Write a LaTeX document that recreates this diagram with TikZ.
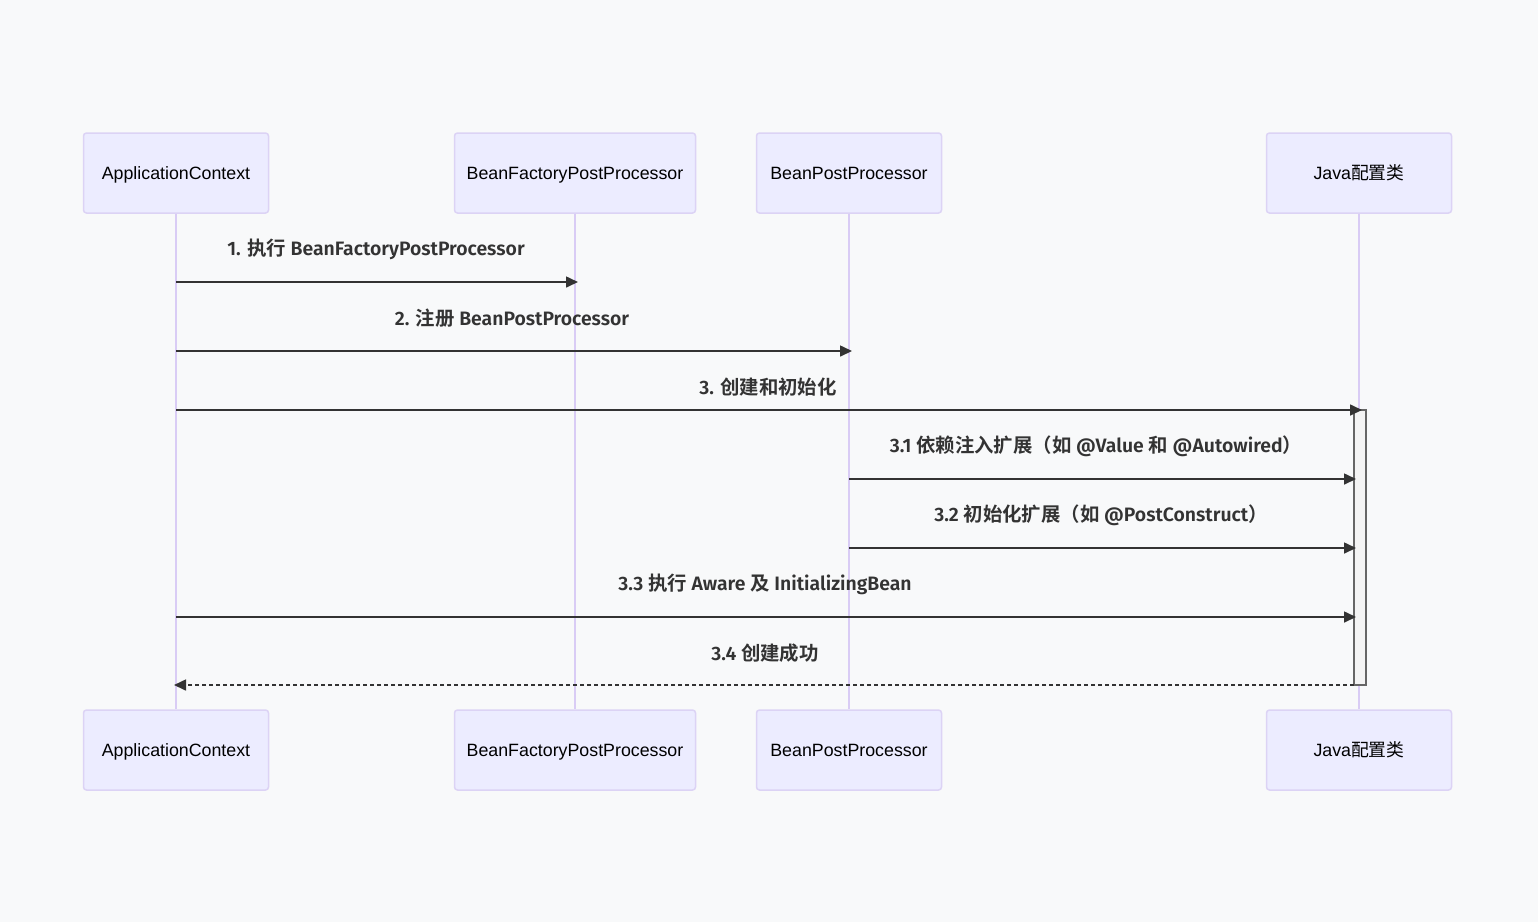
\documentclass[tikz,border=0pt]{standalone}
\usepackage{fontspec}
\setmainfont{Liberation Sans}
\newfontfamily\labelfont{Fira Sans}[BoldFont={Fira Sans SemiBold}]
\newfontfamily\cjk{Noto Sans CJK SC}[BoldFont={Noto Sans CJK SC Bold}]
\usetikzlibrary{arrows.meta,positioning,calc}
\definecolor{PageGray}{HTML}{F8F9FA}
\definecolor{ActorFill}{HTML}{ECECFF}
\definecolor{ActorLine}{HTML}{DCD3F5}
\definecolor{LifeLine}{HTML}{D9CCF5}
\definecolor{MsgInk}{HTML}{333333}
\definecolor{ActFill}{HTML}{F4F4F4}

\begin{document}
\begin{tikzpicture}[x=1pt,y=-1pt,
  actor/.style={rounded corners=3pt,fill=ActorFill,draw=ActorLine,line width=1.5pt,
    minimum width=185pt,minimum height=80pt,inner sep=0pt,text height=14.5pt,text depth=1.5pt,
    font=\fontsize{17.8}{21}\selectfont,text=black},
  lifeline/.style={draw=LifeLine,line width=2pt},
  msg/.style={draw=MsgInk,line width=1.6pt,-{Triangle[length=12pt,width=11pt]}},
  reply/.style={msg,dashed,dash pattern=on 4pt off 3pt},
  msglabel/.style={font=\labelfont\bfseries\fontsize{19.4}{23}\selectfont,text=MsgInk,inner sep=0pt}]
\useasboundingbox[fill=PageGray] (0,0) rectangle (1538,922);

% actors, top and bottom
\node[actor] (ac) at (176,173) {ApplicationContext};
\node[actor,minimum width=241pt] (bfpp) at (575,173) {BeanFactoryPostProcessor};
\node[actor] (bpp) at (849,173) {BeanPostProcessor};
\node[actor] (jc) at (1359,173) {Java{\cjk 配置类}};
\node[actor] (ac-b) at (176,750) {ApplicationContext};
\node[actor,minimum width=241pt] (bfpp-b) at (575,750) {BeanFactoryPostProcessor};
\node[actor] (bpp-b) at (849,750) {BeanPostProcessor};
\node[actor] (jc-b) at (1359,750) {Java{\cjk 配置类}};

% lifelines
\foreach \a in {ac,bfpp,bpp,jc}
  \draw[lifeline] (\a.south) -- (\a-b.north);

% activation bar
\node[draw=black!60,fill=ActFill,line width=1.2pt,minimum width=12pt,minimum height=275pt,inner sep=0pt] (act) at (1360,547.5) {};

% message anchors
\coordinate (ac-1) at (176,282);  \coordinate (bfpp-1) at (578,282);
\coordinate (ac-2) at (176,351);  \coordinate (bpp-2) at (852,351);
\coordinate (ac-3) at (176,410);  \coordinate (jc-3) at (1362,410);
\coordinate (bpp-4) at (849,479); \coordinate (act-4) at (1356,479);
\coordinate (bpp-5) at (849,548); \coordinate (act-5) at (1356,548);
\coordinate (ac-6) at (176,617);  \coordinate (act-6) at (1356,617);
\coordinate (act-7) at (1354,685); \coordinate (ac-7) at (174,685);

% messages
\draw[msg] (ac-1) -- (bfpp-1);
\node[msglabel] (m1) at (376,249) {1. {\cjk\bfseries 执行} BeanFactoryPostProcessor};
\draw[msg] (ac-2) -- (bpp-2);
\node[msglabel] (m2) at (512,318) {2. {\cjk\bfseries 注册} BeanPostProcessor};
\draw[msg] (ac-3) -- (jc-3);
\node[msglabel] (m3) at (768,387) {3. {\cjk\bfseries 创建和初始化}};
\draw[msg] (bpp-4) -- (act-4);
\node[msglabel] (m4) at (1096,446) {3.1 {\cjk\bfseries 依赖注入扩展（如} @Value {\cjk\bfseries 和} @Autowired{\cjk\bfseries ）}};
\draw[msg] (bpp-5) -- (act-5);
\node[msglabel] (m5) at (1101,515) {3.2 {\cjk\bfseries 初始化扩展（如} @PostConstruct{\cjk\bfseries ）}};
\draw[msg] (ac-6) -- (act-6);
\node[msglabel] (m6) at (765,584) {3.3 {\cjk\bfseries 执行} Aware {\cjk\bfseries 及} InitializingBean};
\draw[reply] (act-7) -- (ac-7);
\node[msglabel] (m7) at (765,653) {3.4 {\cjk\bfseries 创建成功}};
\end{tikzpicture}
\end{document}
